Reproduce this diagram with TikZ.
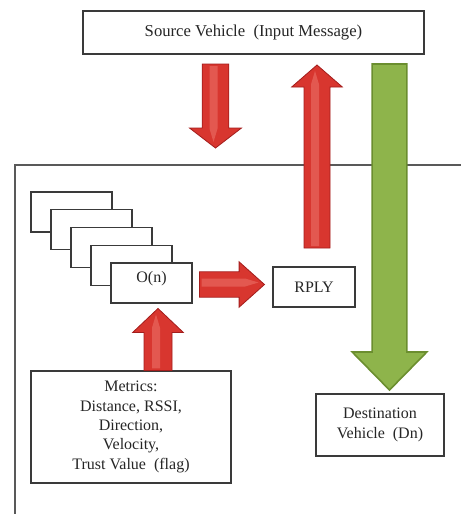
\documentclass[tikz,border=0pt]{standalone}
\usepackage{fontspec}
\setmainfont{Liberation Serif}
\usetikzlibrary{calc}

\definecolor{arrowred}{HTML}{D8362F}
\definecolor{arrowlight}{HTML}{E8675F}
\definecolor{arrowdark}{HTML}{A31D1C}
\definecolor{arrowgreen}{HTML}{8EB44B}
\definecolor{greenedge}{HTML}{6B8E2F}
\definecolor{boxline}{HTML}{3A3A3A}

\tikzset{
  box/.style={draw=boxline, line width=0.8pt, fill=white, text=black!85,
    font=\fontsize{12}{14.5}\selectfont, align=center, inner sep=2pt},
  redarrow/.style={draw=arrowdark, line width=0.6pt, fill=arrowred},
  redshine/.style={fill=arrowlight, fill opacity=0.7},
  greenarrow/.style={draw=greenedge, line width=1.2pt, fill=arrowgreen},
}

% #1 style, #2 tail, #3 tip, #4 half shaft, #5 half head, #6 head length
\newcommand{\fatarrow}[6]{%
  \coordinate (fa-h) at ($#3!#6!#2$);
  \path[#1] ($#2!#4!90:#3$) -- ($(fa-h)!#4!90:#3$) -- ($(fa-h)!#5!90:#3$)
    -- #3 -- ($(fa-h)!#5!-90:#3$) -- ($(fa-h)!#4!-90:#3$)
    -- ($#2!#4!-90:#3$) -- cycle;
}

\begin{document}
\begin{tikzpicture}[x=0.75pt,y=0.75pt,yscale=-1,xscale=1]
\useasboundingbox (0,0) rectangle (461,514);

%Frame (open on right and bottom)
\draw [color=black!65, line width=1pt] (15,514) -- (15,165) -- (461,165);

% Text Node
\node [box, font=\fontsize{12.5}{15}\selectfont, minimum width=255.75pt, minimum height=32.25pt] (src) at (253.5,32.5) {Source Vehicle\ \ (Input Message)};
% stack of boxes
\foreach \i in {0,...,3}
  \node [box, minimum width=60.75pt, minimum height=30pt] (stk\i) at (71.5+20*\i,212+17.75*\i) {};
\node [box, minimum width=60.75pt, minimum height=30pt, text depth=9pt] (on) at (151.5,283) {O(n)};
% Text Node
\node [box, minimum width=61.5pt, minimum height=30pt] (rply) at (314,287) {RPLY};
% Text Node
\node [box, minimum width=150pt, minimum height=84pt] (metrics) at (131,427) {Metrics:\\Distance, RSSI,\\Direction,\\Velocity,\\Trust Value\ \ (flag)};
% Text Node
\node [box, minimum width=96pt, minimum height=46.5pt] (dst) at (380,425) {Destination\\Vehicle\ \ (Dn)};

%Block arrows
\coordinate (in-tail) at (215.5,64);
\coordinate (in-tip) at (215.5,148);
\coordinate (out-tail) at (317,248);
\coordinate (out-tip) at (317,65);
\coordinate (dn-tail) at (389.5,64);
\coordinate (dn-tip) at (389.5,390);
\coordinate (met-tip) at ($(metrics.north -| 158,0)+(0,-62)$);
\coordinate (on-tail) at ($(on.east)+(7,1.5)$);
\coordinate (on-tip) at ($(rply.west)+(-8,-2.5)$);

\fatarrow{redarrow}{(in-tail)}{(in-tip)}{10pt}{19.5pt}{15pt}
\fatarrow{redshine}{($(in-tail)+(-2,2)$)}{($(in-tip)+(-2,-6)$)}{3pt}{3pt}{10pt}
\fatarrow{redarrow}{(out-tail)}{(out-tip)}{9.75pt}{19pt}{16.5pt}
\fatarrow{redshine}{($(out-tail)+(-2,-2)$)}{($(out-tip)+(-2,6)$)}{3pt}{3pt}{10pt}
\fatarrow{greenarrow}{(dn-tail)}{(dn-tip)}{13pt}{28pt}{28.5pt}
\fatarrow{redarrow}{(metrics.north -| met-tip)}{(met-tip)}{10.5pt}{19pt}{18pt}
\fatarrow{redshine}{($(metrics.north -| met-tip)+(-2,-2)$)}{($(met-tip)+(-2,6)$)}{3pt}{3pt}{10pt}
\fatarrow{redarrow}{(on-tail)}{(on-tip)}{9.5pt}{17pt}{19pt}
\fatarrow{redshine}{($(on-tail)+(2,-2)$)}{($(on-tip)+(-6,-2)$)}{3pt}{3pt}{10pt}

\end{tikzpicture}
\end{document}
